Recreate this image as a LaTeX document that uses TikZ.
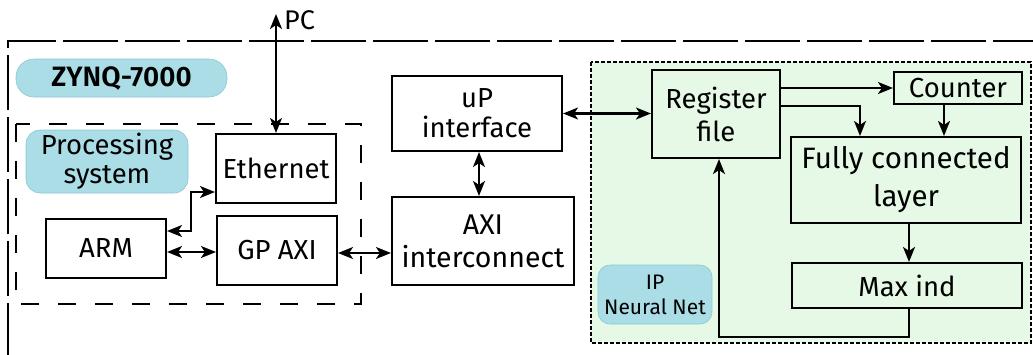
\documentclass[tikz,border=0pt]{standalone}
\usepackage{fontspec}
\setmainfont{Fira Sans}
\newfontfamily\zsemib{Fira Sans SemiBold}
\usetikzlibrary{arrows.meta,calc}
\definecolor{lblblue}{RGB}{170,221,230}
\definecolor{lblborder}{RGB}{140,200,212}
\definecolor{ipgreen}{RGB}{230,249,230}
\tikzset{
  tip/.tip={Stealth[length=15pt,width=12pt,inset=4pt]},
  blk/.style={draw=black, line width=2.1pt, inner sep=0pt, align=center,
    font=\fontsize{27.5}{32}\selectfont},
  lbl/.style={fill=lblblue, draw=lblborder, line width=0.6pt, rounded corners=14pt,
    inner sep=0pt, align=center, font=\fontsize{27.5}{29}\selectfont},
  arr/.style={line width=2.1pt, tip-tip},
  sarr/.style={line width=2.1pt, -tip},
}
\begin{document}
\begin{tikzpicture}[x=1pt,y=-1pt]
\useasboundingbox (0,0) rectangle (1033,354);
% outer ZYNQ dashed box (extends beyond the picture)
\draw[line width=2.5pt, dash pattern=on 55pt off 7pt] (8,420) -- (8,41) -- (1100,41);
% IP region
\draw[fill=ipgreen, line width=1.4pt, dash pattern=on 4pt off 2pt] (591,62) rectangle (1031,343);
% processing system dashed box
\draw[line width=2pt, dash pattern=on 18pt off 19pt] (16,124) rectangle (361,304);

% labels
\node[lbl, minimum width=211pt, minimum height=38pt, rounded corners=18pt,
  font=\fontsize{28}{29}\zsemib] (zynq) at (121.5,78) {ZYNQ-7000};
\node[lbl, minimum width=162pt, minimum height=63pt] (pslbl) at (107,161.5) {Processing\\system};
\node[lbl, minimum width=114pt, minimum height=59pt, rounded corners=12pt,
  font=\fontsize{21}{25}\selectfont] (iplbl) at (655,294.5) {IP\\Neural Net};

% blocks
\node[blk, minimum width=120pt, minimum height=69pt] (eth) at (276,168.5) {Ethernet};
\node[blk, minimum width=120pt, minimum height=59pt] (arm) at (106,248.5) {ARM};
\node[blk, minimum width=120pt, minimum height=69pt] (gp) at (277,250.5) {GP AXI};
\node[blk, minimum width=170pt, minimum height=75pt, font=\fontsize{27.5}{30}\selectfont] (up) at (477,113.5) {uP\\interface};
\node[blk, minimum width=182pt, minimum height=88pt, font=\fontsize{28.5}{33}\selectfont] (axi) at (483,241) {AXI\\interconnect};
\node[blk, minimum width=128pt, minimum height=88pt, font=\fontsize{27.5}{33}\selectfont] (reg) at (716,114) {Register\\file};
\node[blk, minimum width=128pt, minimum height=32pt] (cnt) at (958,88) {Counter};
\node[blk, minimum width=230pt, minimum height=86pt, font=\fontsize{29.5}{38}\selectfont] (fc) at (906,180) {Fully connected\\layer};
\node[blk, minimum width=230pt, minimum height=45pt] (max) at (907,285.5) {Max ind};

% PC
\coordinate (pc) at (276,14);
\node[anchor=west, inner sep=0pt, font=\fontsize{27}{29}\selectfont] (pctxt) at (284,20) {PC};

% connectors
\draw[arr] (eth.north) -- (pc);
\draw[arr] ([yshift=17.5pt]arm.east) -| (191,192) -- ([yshift=-23.5pt]eth.west);
\coordinate (a1) at ([yshift=-3.5pt]arm.east);
\draw[arr] (a1) -- (a1 -| gp.west);
\coordinate (g1) at ([yshift=-2.5pt]gp.east);
\draw[arr] (g1) -- (g1 -| axi.west);
\coordinate (u1) at ([xshift=2pt]up.south);
\draw[arr] (u1) -- (u1 |- axi.north);
\draw[arr] (up.east) -- (up.east -| reg.west);
\draw[sarr] (reg.east |- cnt.west) -- (cnt.west);
\draw[sarr] ([yshift=8pt]reg.east) -| ([xshift=-46pt]fc.north);
\coordinate (c1) at ([xshift=-14pt]cnt.south);
\draw[sarr] (c1) -- (c1 |- fc.north);
\coordinate (f1) at ([xshift=3pt]fc.south);
\draw[sarr] (f1) -- (f1 |- max.north);
\coordinate (m1) at ([xshift=2pt]max.south);
\draw[sarr] (m1) -- ++(0,28) -| ([xshift=3pt]reg.south);
\end{tikzpicture}
\end{document}
